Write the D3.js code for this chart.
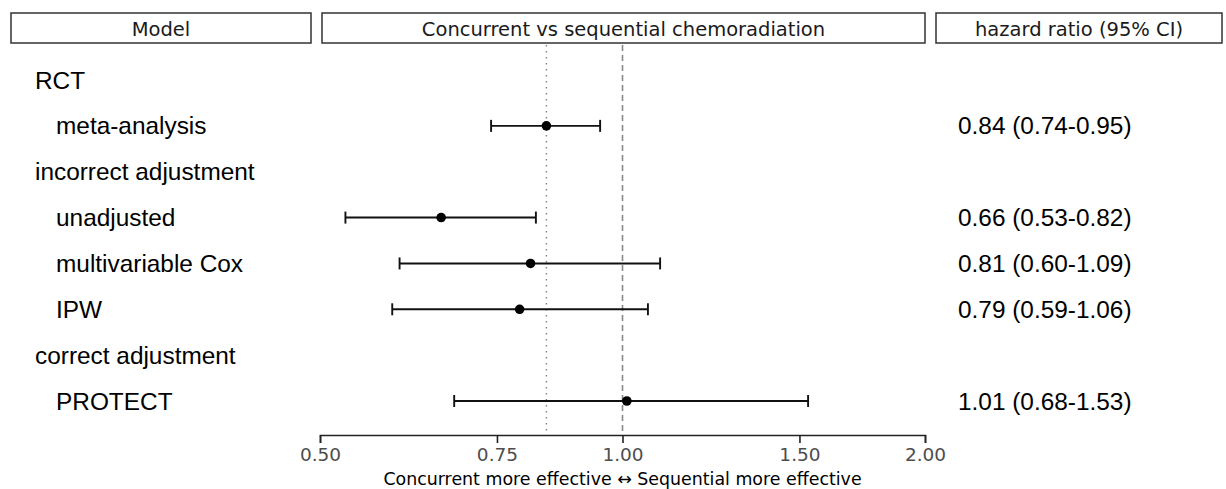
<!DOCTYPE html>
<html>
<head>
<meta charset="utf-8">
<script src="https://cdn.jsdelivr.net/npm/d3@7"></script>
<style>
  body { margin: 0; background: #fff; }
  svg { display: block; }
</style>
</head>
<body>
<svg width="1226" height="489"></svg>
<script>
const headers = ["Model", "Concurrent vs sequential chemoradiation", "hazard ratio (95% CI)"];
const rowLabels = ["RCT", "meta-analysis", "incorrect adjustment", "unadjusted",
  "multivariable Cox", "IPW", "correct adjustment", "PROTECT"];
const isGroup = [true, false, true, false, false, false, true, false];
const hr    = [null, 0.84, null, 0.66, 0.81, 0.79, null, 1.01];
const lower = [null, 0.74, null, 0.53, 0.60, 0.59, null, 0.68];
const upper = [null, 0.95, null, 0.82, 1.09, 1.06, null, 1.53];
const hrText = [null, "0.84 (0.74-0.95)", null, "0.66 (0.53-0.82)", "0.81 (0.60-1.09)",
  "0.79 (0.59-1.06)", null, "1.01 (0.68-1.53)"];
const xTicks = [0.5, 0.75, 1.0, 1.5, 2.0];
const refRCT = 0.84;
const refNull = 1.0;
const axisTitle = "Concurrent more effective \u2194 Sequential more effective";

const svg = d3.select("svg");

const x = d3.scaleLog().base(2).domain([0.5, 2]).range([320, 925]);
const y = d3.scalePoint().domain(d3.range(rowLabels.length)).range([80, 401]);

// header boxes
const boxes = [[11, 311], [322, 925], [936, 1222]];
boxes.forEach((b, i) => {
  svg.append("rect")
    .attr("x", b[0]).attr("y", 13)
    .attr("width", b[1] - b[0]).attr("height", 30)
    .attr("fill", "#fff").attr("stroke", "#333").attr("stroke-width", 1.5);
  svg.append("text")
    .attr("x", (b[0] + b[1]) / 2).attr("y", 29)
    .attr("text-anchor", "middle").attr("dominant-baseline", "central")
    .style("font-family", "'DejaVu Sans'").style("font-size", "19.5px")
    .attr("fill", "#1a1a1a")
    .text(headers[i]);
});

// reference lines
svg.append("line")
  .attr("x1", x(refRCT)).attr("x2", x(refRCT)).attr("y1", 45).attr("y2", 435)
  .attr("stroke", "#888").attr("stroke-width", 1.5).attr("stroke-dasharray", "1.5,4.5");
svg.append("line")
  .attr("x1", x(refNull)).attr("x2", x(refNull)).attr("y1", 45).attr("y2", 435)
  .attr("stroke", "#888").attr("stroke-width", 1.6).attr("stroke-dasharray", "6,4");

// row labels
svg.selectAll("text.row")
  .data(rowLabels)
  .enter().append("text")
  .attr("class", "row")
  .attr("x", (d, i) => isGroup[i] ? 35 : 56)
  .attr("y", (d, i) => y(i))
  .attr("dominant-baseline", "central")
  .style("font-family", "'Liberation Sans', Arial").style("font-size", "24.4px")
  .attr("fill", "#000")
  .text(d => d);

// hazard ratio text
svg.selectAll("text.hr")
  .data(hrText.map((t, i) => ({t, i})).filter(d => d.t))
  .enter().append("text")
  .attr("class", "hr")
  .attr("x", 958)
  .attr("y", d => y(d.i))
  .attr("dominant-baseline", "central")
  .style("font-family", "'Liberation Sans', Arial").style("font-size", "24.4px")
  .attr("fill", "#000")
  .text(d => d.t);

// error bars and points
const est = d3.range(rowLabels.length).filter(i => hr[i] !== null);
const g = svg.append("g");
est.forEach(i => {
  const yy = y(i);
  g.append("line")
    .attr("x1", x(lower[i])).attr("x2", x(upper[i])).attr("y1", yy).attr("y2", yy)
    .attr("stroke", "#111").attr("stroke-width", 1.9);
  [lower[i], upper[i]].forEach(v => {
    g.append("line")
      .attr("x1", x(v)).attr("x2", x(v)).attr("y1", yy - 6).attr("y2", yy + 6)
      .attr("stroke", "#111").attr("stroke-width", 1.9);
  });
  g.append("circle")
    .attr("cx", x(hr[i])).attr("cy", yy).attr("r", 4.8)
    .attr("fill", "#000");
});

// axis
const axis = svg.append("g")
  .attr("transform", "translate(0,435)")
  .call(d3.axisBottom(x).tickValues(xTicks).tickFormat(d3.format(".2f")).tickSize(8).tickPadding(5));
axis.select(".domain").attr("stroke", "#222").attr("stroke-width", 1.6);
axis.selectAll(".tick line").attr("stroke", "#222").attr("stroke-width", 1.6);
axis.selectAll(".tick text")
  .style("font-family", "'DejaVu Sans'").style("font-size", "18.5px").attr("fill", "#4d4d4d");

svg.append("text")
  .attr("x", x(1)).attr("y", 479)
  .attr("text-anchor", "middle").attr("dominant-baseline", "central")
  .style("font-family", "'DejaVu Sans'").style("font-size", "17.4px")
  .attr("fill", "#000")
  .text(axisTitle);
</script>
</body>
</html>
